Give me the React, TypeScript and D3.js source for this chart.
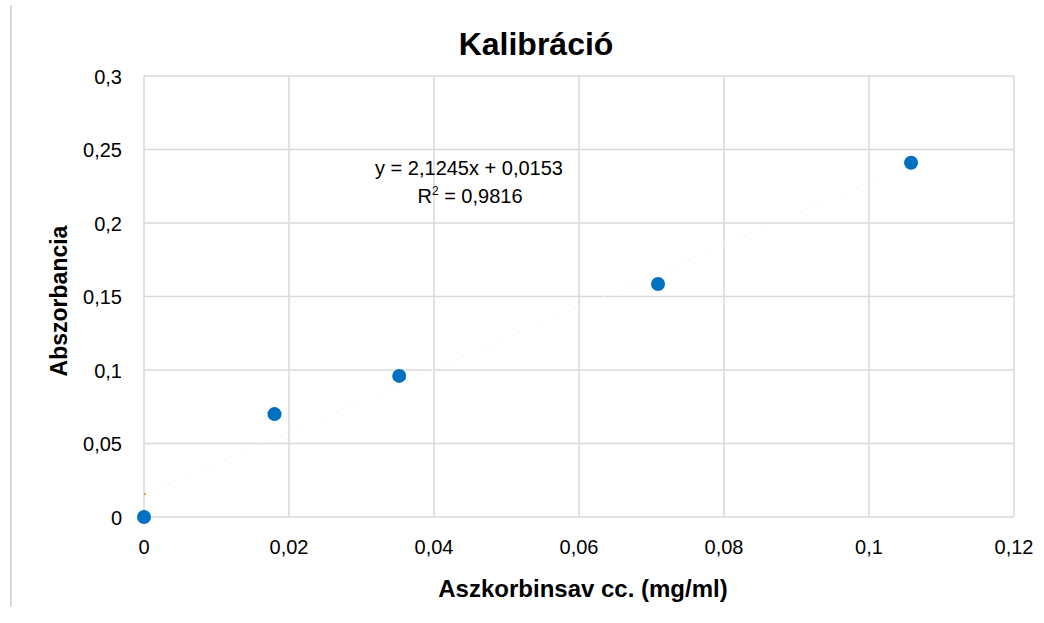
import React from "react";
import * as d3 from "d3";

const xValues = [0, 0.018, 0.0352, 0.0709, 0.1058];
const yValues = [0, 0.07, 0.096, 0.1585, 0.241];
const xTicks = [0, 0.02, 0.04, 0.06, 0.08, 0.1, 0.12];
const yTicks = [0, 0.05, 0.1, 0.15, 0.2, 0.25, 0.3];
const slope = 2.1245;
const intercept = 0.0153;
const rSquared = "0,9816";
const title = "Kalibráció";
const xTitle = "Aszkorbinsav cc. (mg/ml)";
const yTitle = "Abszorbancia";

const W = 1044;
const H = 623;
const M = { left: 144, right: 1014, top: 76, bottom: 517 };

const fmt = (v: number) => String(+v.toFixed(4)).replace(".", ",");

export default function App() {
  const x = d3.scaleLinear().domain([0, 0.12]).range([M.left, M.right]);
  const y = d3.scaleLinear().domain([0, 0.3]).range([M.bottom, M.top]);
  const font = "'Liberation Sans', Arial, sans-serif";
  const grid = "#d9d9d9";
  const trendX = [0, d3.max(xValues) as number];
  const line = d3
    .line<number>()
    .x((d) => x(d))
    .y((d) => y(slope * d + intercept));

  return (
    <svg
      width={W}
      height={H}
      style={{ position: "absolute", left: 0, top: 0, background: "#fff" }}
      fontFamily={font}
    >
      <rect x={0} y={0} width={W} height={H} fill="#fff" />
      <line x1={11} x2={11} y1={5} y2={607} stroke="#d9d9d9" strokeWidth={2} />
      <text x={536} y={55} textAnchor="middle" fontSize={32} fontWeight="bold" fill="#000">
        {title}
      </text>
      {xTicks.map((t) => (
        <line key={"gx" + t} x1={x(t)} x2={x(t)} y1={M.top} y2={M.bottom} stroke={grid} strokeWidth={1.5} />
      ))}
      {yTicks.map((t) => (
        <line key={"gy" + t} x1={M.left} x2={M.right} y1={y(t)} y2={y(t)} stroke={grid} strokeWidth={1.5} />
      ))}
      {yTicks.map((t) => (
        <text key={"ty" + t} x={122} y={y(t) + 7.5} textAnchor="end" fontSize={20} fill="#000">
          {fmt(t)}
        </text>
      ))}
      {xTicks.map((t) => (
        <text key={"tx" + t} x={x(t)} y={554} textAnchor="middle" fontSize={20} fill="#000">
          {fmt(t)}
        </text>
      ))}
      <path d={line(trendX) || ""} fill="none" stroke="#f4f4f4" strokeWidth={1.5} strokeDasharray="1.5,4" />
      <line x1={x(0)} x2={x(0) + 1.5} y1={y(intercept)} y2={y(intercept) - 1} stroke="#ED7D31" strokeWidth={2} />
      {xValues.map((v, i) => (
        <circle key={"p" + i} cx={x(v)} cy={y(yValues[i])} r={7} fill="#0070C0" />
      ))}
      <text x={469} y={175} textAnchor="middle" fontSize={20} fill="#000">
        {`y = ${fmt(slope)}x + ${fmt(intercept)}`}
      </text>
      <text x={470} y={203} textAnchor="middle" fontSize={20} fill="#000">
        R<tspan dy={-8} fontSize={12}>2</tspan>
        <tspan dy={8}>{` = ${rSquared}`}</tspan>
      </text>
      <text x={583} y={597} textAnchor="middle" fontSize={24} fontWeight="bold" fill="#000">
        {xTitle}
      </text>
      <text
        transform={`translate(67, 301) rotate(-90)`}
        textAnchor="middle"
        fontSize={23}
        fontWeight="bold"
        fill="#000"
      >
        {yTitle}
      </text>
    </svg>
  );
}
